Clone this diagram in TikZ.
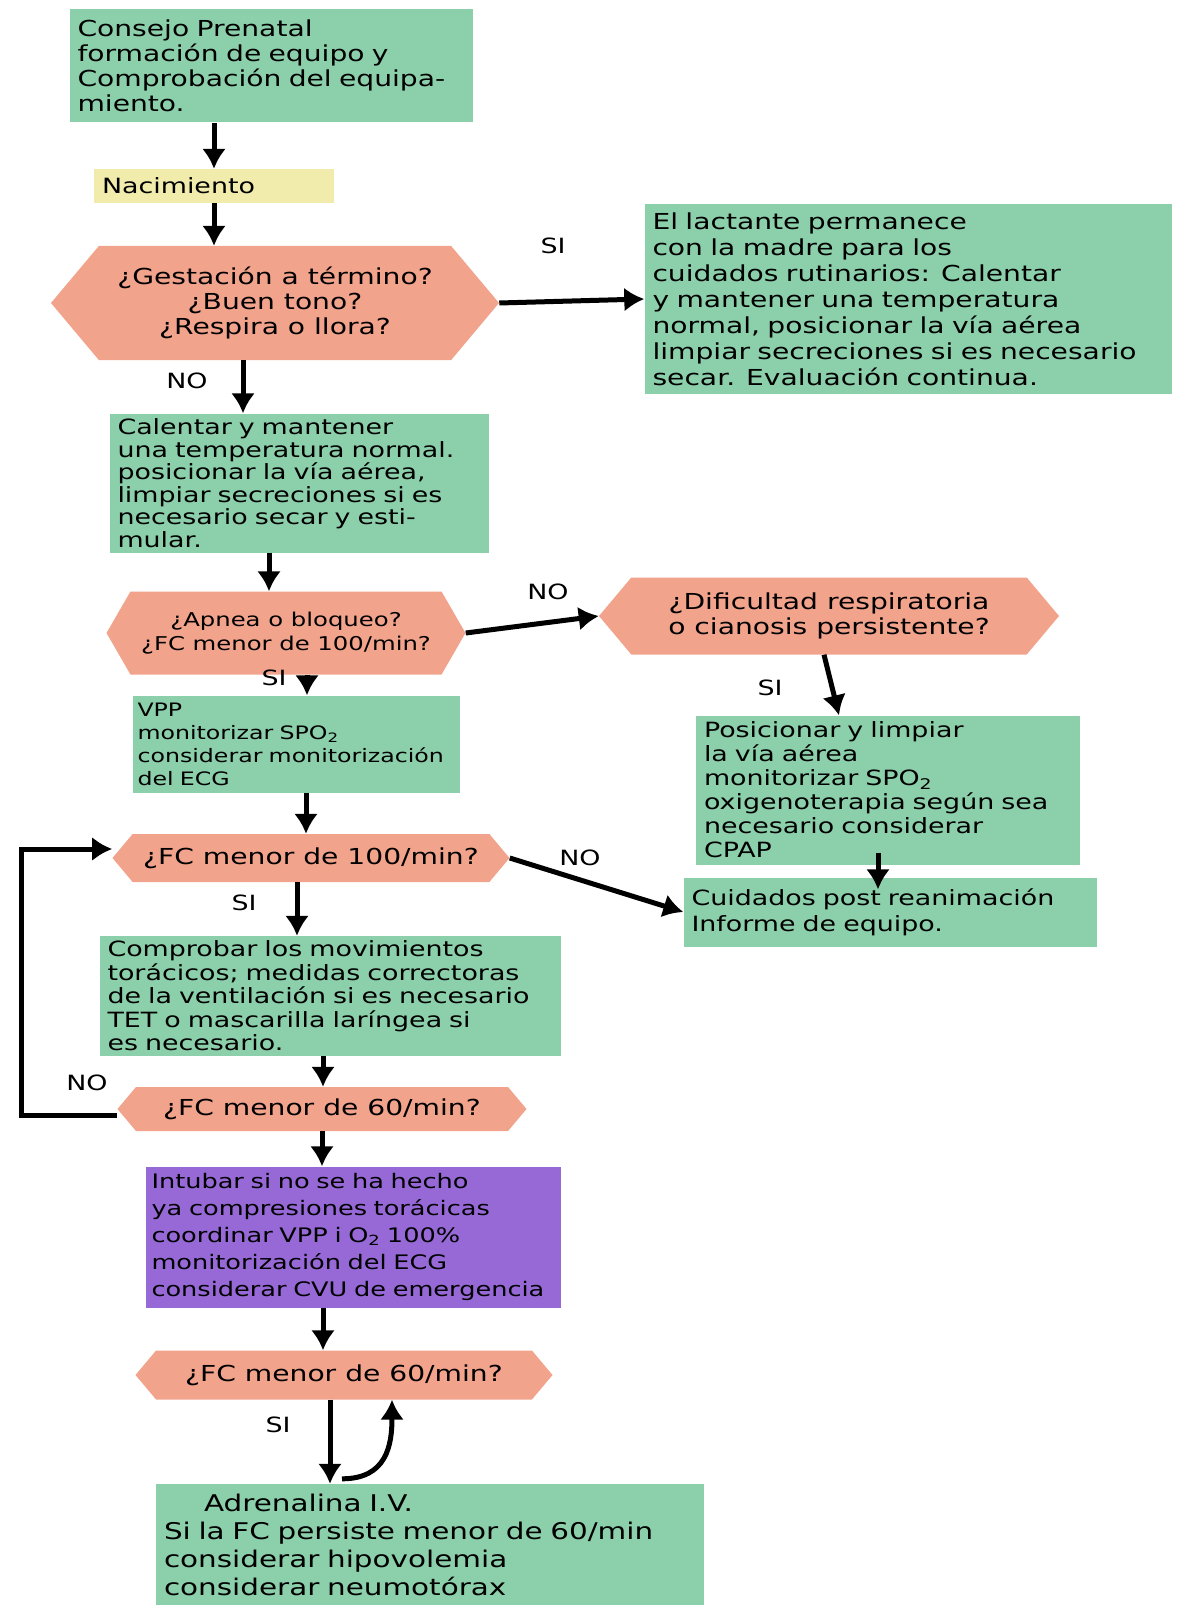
\documentclass[tikz,border=0pt]{standalone}
\usepackage{fontspec}
\setmainfont[FakeStretch=1.28]{DejaVu Sans}
\usetikzlibrary{shapes.symbols,arrows.meta,positioning,calc}

\definecolor{verdeM}{RGB}{140,207,171}
\definecolor{salmon}{RGB}{242,163,140}
\definecolor{amarillo}{RGB}{241,236,172}
\definecolor{morado}{RGB}{150,105,215}

\begin{document}
\begin{tikzpicture}[x=1pt,y=-1pt,
	caja/.style={rectangle, fill=verdeM, inner xsep=8pt, inner ysep=3pt, align=left, font=\fontsize{21}{24}\selectfont},
	pregunta/.style={signal, signal to=east and west, signal pointer angle=100, fill=salmon, inner sep=2pt, align=center, font=\fontsize{22}{25}\selectfont},
	flecha/.style={line width=5pt, -{Latex[length=20pt,width=24pt]}},
	etiqueta/.style={font=\fontsize{21}{24}\selectfont}]
	\fill[white] (0,0) rectangle (1178,1605);
	\useasboundingbox (0,0) rectangle (1178,1605);

	% columna izquierda
	\node[caja, text width=387pt, minimum height=113pt, font=\fontsize{22}{25}\selectfont] (consejo) at (271,66) {Consejo Prenatal\\ formación de equipo y\\ Comprobación del equipa-\\ miento.};
	\node[caja, fill=amarillo, text width=224pt, minimum height=34pt] (nacimiento) at (214,186) {Nacimiento};
	\node[pregunta, minimum width=448pt, minimum height=114pt] (gestacion) at (275,303) {¿Gestación a término?\\ ¿Buen tono?\\ ¿Respira o llora?};
	\node[caja, text width=363pt, minimum height=139pt, font=\fontsize{21}{22.5}\selectfont] (calentar) at (299,483) {Calentar y mantener\\ una temperatura normal.\\ posicionar la vía aérea,\\ limpiar secreciones si es\\ necesario secar y esti-\\ mular.};
	\node[pregunta, signal pointer angle=120, minimum width=359pt, minimum height=83pt, font=\fontsize{19}{24}\selectfont] (apnea) at (286,633) {¿Apnea o bloqueo?\\ ¿FC menor de 100/min?};
	\node[caja, inner xsep=5pt, text width=317pt, minimum height=97pt, font=\fontsize{18.5}{23}\selectfont] (vpp) at (296,744) {VPP\\ monitorizar SPO\textsubscript{2}\\ considerar monitorización\\ del ECG};
	\node[pregunta, minimum width=397pt, minimum height=48pt] (fccien) at (311,858) {¿FC menor de 100/min?};
	\node[caja, text width=445pt, minimum height=120pt, font=\fontsize{21}{23.5}\selectfont] (comprobar) at (330,996) {Comprobar los movimientos\\ torácicos; medidas correctoras\\ de la ventilación si es necesario\\ TET o mascarilla laríngea si\\ es necesario.};
	\node[pregunta, minimum width=409pt, minimum height=44pt] (fcsesentaA) at (322,1109) {¿FC menor de 60/min?};
	\node[caja, fill=morado, inner xsep=6pt, text width=403pt, minimum height=141pt, font=\fontsize{20}{27}\selectfont] (intubar) at (353,1237) {Intubar si no se ha hecho\\ ya compresiones torácicas\\ coordinar VPP i O\textsubscript{2} 100\%\\ monitorización del ECG\\ considerar CVU de emergencia};
	\node[pregunta, minimum width=417pt, minimum height=49pt] (fcsesentaB) at (344,1375) {¿FC menor de 60/min?};
	\node[caja, text width=532pt, minimum height=122pt, font=\fontsize{23}{28}\selectfont] (adrenalina) at (430,1545) {\hspace{40pt}Adrenalina I.V.\\ Si la FC persiste menor de 60/min\\ considerar hipovolemia\\ considerar neumotórax};

	% columna derecha
	\node[caja, text width=511pt, minimum height=189pt, font=\fontsize{22}{26}\selectfont] (lactante) at (908,299) {El lactante permanece\\ con la madre para los\\ cuidados rutinarios: Calentar\\ y mantener una temperatura\\ normal, posicionar la vía aérea\\ limpiar secreciones si es necesario\\ secar. Evaluación continua.};
	\node[pregunta, minimum width=460pt, minimum height=77pt] (dificultad) at (829,616) {¿Dificultad respiratoria\\ o cianosis persistente?};
	\node[caja, text width=368pt, minimum height=149pt] (posicionar) at (888,790) {Posicionar y limpiar\\ la vía aérea\\ monitorizar SPO\textsubscript{2}\\ oxigenoterapia según sea\\ necesario considerar\\ CPAP};
	\node[caja, text width=397pt, minimum height=69pt, font=\fontsize{21}{26}\selectfont] (cuidados) at (890,912) {Cuidados post reanimación\\ Informe de equipo.};

	% etiquetas
	\node[etiqueta] (si1) at (553,246) {SI};
	\node[etiqueta] (no1) at (187,381) {NO};
	\node[etiqueta] (no2) at (548,592) {NO};
	\node[etiqueta] (si2) at (274,678) {SI};
	\node[etiqueta] (si3) at (770,688) {SI};
	\node[etiqueta] (no3) at (580,858) {NO};
	\node[etiqueta] (si4) at (244,903) {SI};
	\node[etiqueta] (no4) at (87,1083) {NO};
	\node[etiqueta] (si5) at (278,1425) {SI};

	% flechas
	\draw[flecha] (consejo.south -| nacimiento.north) -- (nacimiento.north);
	\draw[flecha] (nacimiento.south) -- (nacimiento.south |- gestacion.north);
	\draw[flecha] (gestacion.east) -- (lactante.west);
	\draw[flecha] ([xshift=-32pt]gestacion.south) -- ([xshift=-32pt]gestacion.south |- calentar.north);
	\draw[flecha] ([xshift=-30pt]calentar.south) -- ([xshift=-30pt]calentar.south |- apnea.north);
	\draw[flecha] (apnea.east) -- (dificultad.west);
	\draw[flecha] ([xshift=21pt]apnea.south) -- ([xshift=21pt]apnea.south |- vpp.north);
	\draw[flecha] ([xshift=-5pt]dificultad.south) -- ([xshift=-49pt]posicionar.north);
	\draw[flecha, shorten <=-12pt, shorten >=-12pt] ([xshift=-10pt]posicionar.south) -- ([xshift=-10pt]posicionar.south |- cuidados.north);
	\draw[flecha] ([xshift=10pt]vpp.south) -- ([xshift=10pt]vpp.south |- fccien.north);
	\draw[flecha] (fccien.east) -- (cuidados.west);
	\draw[flecha] ([xshift=-14pt]fccien.south) -- ([xshift=-14pt]fccien.south |- comprobar.north);
	\draw[flecha] ([xshift=-7pt]comprobar.south) -- ([xshift=-7pt]comprobar.south |- fcsesentaA.north);
	\coordinate (vuelta) at (21,0);
	\draw[flecha] ([yshift=-6pt]fcsesentaA.west) -- ([yshift=-6pt]fcsesentaA.west -| vuelta) |- ([yshift=9pt]fccien.west);
	\draw[flecha] (fcsesentaA.south) -- (fcsesentaA.south |- intubar.north);
	\draw[flecha] ([xshift=-30pt]intubar.south) -- ([xshift=-30pt]intubar.south |- fcsesentaB.north);
	\draw[flecha] ([xshift=-14pt]fcsesentaB.south) -- ([xshift=-14pt]fcsesentaB.south |- adrenalina.north);
	\draw[flecha] ([xshift=-88pt,yshift=5pt]adrenalina.north) .. controls +(45,0) and +(0,45) .. ([xshift=48pt]fcsesentaB.south);
\end{tikzpicture}
\end{document}
